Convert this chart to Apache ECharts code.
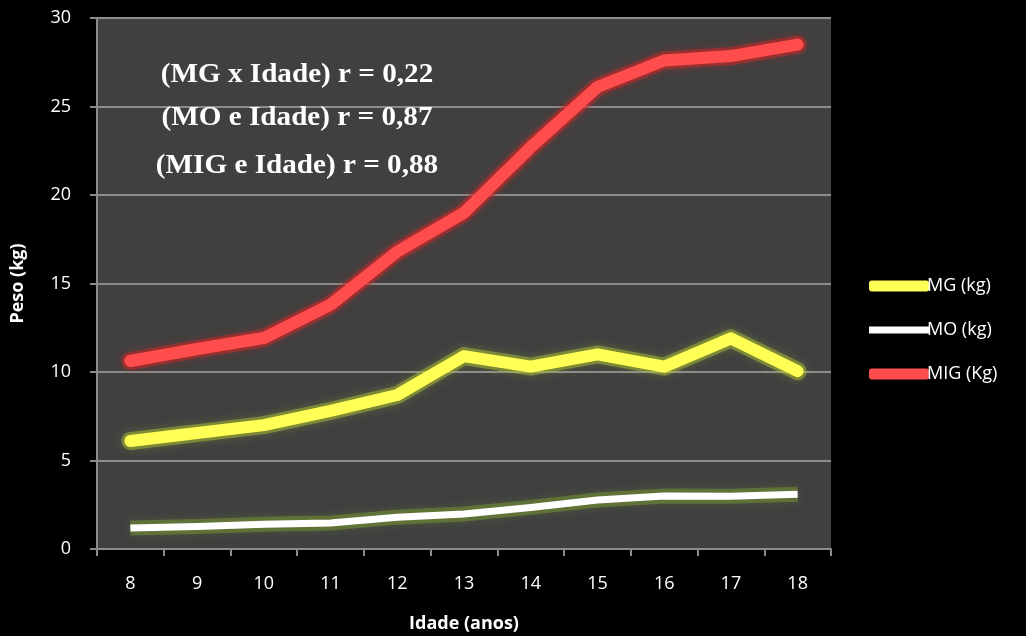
<!DOCTYPE html>
<html><head><meta charset="utf-8">
<script src="https://cdn.jsdelivr.net/npm/echarts@6/dist/echarts.min.js"></script>
<style>html,body{margin:0;padding:0;background:#000;overflow:hidden}#c{width:1026px;height:636px}</style>
</head><body><div id="c"></div>
<script>
const categories = ['8','9','10','11','12','13','14','15','16','17','18'];
const mgValues  = [6.1, 6.55, 7.0, 7.8, 8.7, 10.9, 10.3, 11.0, 10.3, 11.9, 10.05];
const moValues  = [1.19, 1.27, 1.4, 1.47, 1.8, 1.98, 2.35, 2.77, 3.0, 2.98, 3.1];
const migValues = [10.62, 11.3, 11.92, 13.8, 16.8, 19.0, 22.7, 26.1, 27.6, 27.85, 28.5];
const seriesNames = ['MG (kg)', 'MO (kg)', 'MIG (Kg)'];
const annotations = ['(MG x Idade) r = 0,22', '(MO e Idade) r = 0,87', '(MIG e Idade) r = 0,88'];
const yTicks = {min: 0, max: 30, interval: 5};

const font = '"Open Sans", "Noto Sans", sans-serif';
const annY = [75, 118, 166];
const glow = (name, data, color, width, cap, z) => ({
  name: name + ' glow', type: 'line', data: data, symbol: 'none', z: z, silent: true,
  lineStyle: {color: color, width: width, cap: cap, join: 'round', shadowBlur: 10, shadowColor: color}
});
const chart = echarts.init(document.getElementById('c'), null, {width: 1026, height: 636});
chart.setOption({
  backgroundColor: '#000',
  animation: false,
  grid: {left: 97, top: 18, right: 195, bottom: 87, outerBoundsMode: 'none', containLabel: false,
         show: true, backgroundColor: '#404040', borderWidth: 0},
  legend: {
    orient: 'vertical', left: 864, top: 272, itemWidth: 60, itemHeight: 11, itemGap: 26,
    textStyle: {color: '#fff', fontSize: 18, fontFamily: font, padding: [0,0,0,-7]},
    data: [
      {name: seriesNames[0], icon: 'roundRect', itemStyle: {color: '#ffff55'}},
      {name: seriesNames[1], icon: 'path://M0,2L50,2L50,8L0,8Z', itemStyle: {color: '#ffffff'}},
      {name: seriesNames[2], icon: 'roundRect', itemStyle: {color: '#ff4d4d'}}
    ]
  },
  xAxis: {
    type: 'category', data: categories, boundaryGap: true,
    name: 'Idade (anos)', nameLocation: 'middle', nameGap: 66,
    nameTextStyle: {color: '#fff', fontSize: 18, fontWeight: 'bold', fontFamily: font},
    axisLine: {lineStyle: {color: '#8c8c8c', width: 2}},
    axisTick: {show: true, alignWithLabel: false, length: 7, lineStyle: {color: '#8c8c8c', width: 2}},
    axisLabel: {color: '#fff', fontSize: 18, fontFamily: font, margin: 26},
    splitLine: {show: false}
  },
  yAxis: {
    type: 'value', min: yTicks.min, max: yTicks.max, interval: yTicks.interval,
    name: 'Peso (kg)', nameLocation: 'middle', nameGap: 70, nameRotate: 90,
    nameTextStyle: {color: '#fff', fontSize: 18, fontWeight: 'bold', fontFamily: font},
    axisLine: {show: true, lineStyle: {color: '#8c8c8c', width: 2}},
    axisTick: {show: true, length: 7, lineStyle: {color: '#8c8c8c', width: 2}},
    axisLabel: {color: '#fff', fontSize: 18, fontFamily: font, margin: 26},
    splitLine: {lineStyle: {color: '#8c8c8c', width: 2}}
  },
  graphic: annotations.map((t, i) => ({
    type: 'text', x: 297, y: annY[i], z: 10, scaleX: 1.08, originX: 0,
    style: {text: t, fill: '#fff', font: 'bold 27px "Liberation Serif", "Times New Roman", serif', textAlign: 'center', textVerticalAlign: 'middle'}
  })),
  series: [
    glow(seriesNames[1], moValues, 'rgba(120,150,50,0.5)', 15, 'butt', 1),
    glow(seriesNames[0], mgValues, 'rgba(170,190,50,0.5)', 18, 'round', 1),
    glow(seriesNames[2], migValues, 'rgba(200,40,40,0.55)', 18, 'round', 1),
    {name: seriesNames[0], type: 'line', data: mgValues, symbol: 'none', z: 3,
     lineStyle: {color: '#ffff55', width: 12, cap: 'round', join: 'round'}},
    {name: seriesNames[1], type: 'line', data: moValues, symbol: 'none', z: 2,
     lineStyle: {color: '#ffffff', width: 7, cap: 'butt', join: 'miter'}},
    {name: seriesNames[2], type: 'line', data: migValues, symbol: 'none', z: 4,
     lineStyle: {color: '#ff4d4d', width: 12, cap: 'round', join: 'round'}}
  ]
});
</script></body></html>
